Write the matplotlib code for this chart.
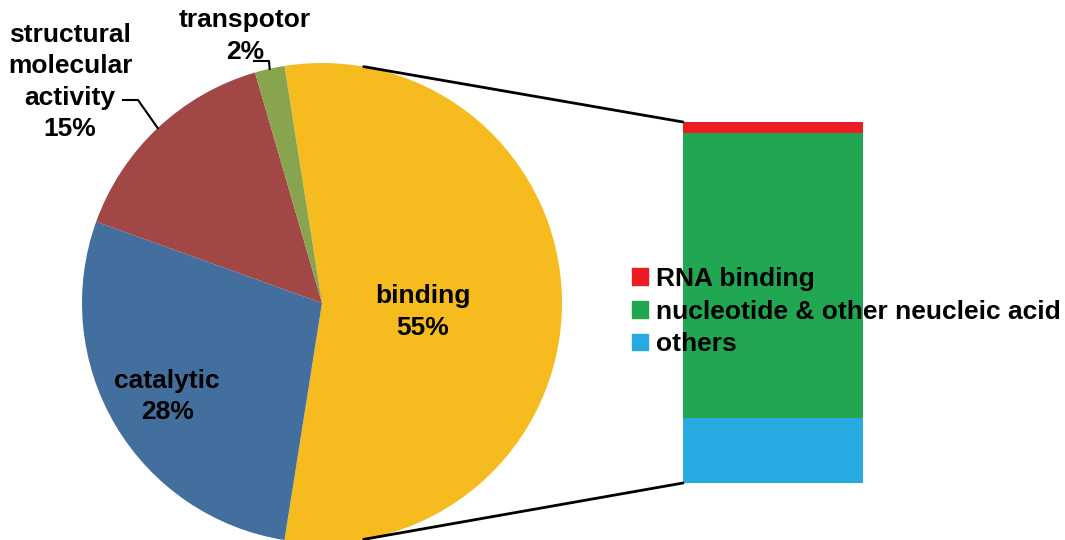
import numpy as np
import matplotlib
matplotlib.use("Agg")
import matplotlib.pyplot as plt
from matplotlib.patches import ConnectionPatch, Patch

plt.rcParams['font.family'] = ['Liberation Sans', 'DejaVu Sans']
plt.rcParams['font.weight'] = 'bold'

# pie data (clockwise from top)
pie_labels = ["binding", "catalytic", "structural\nmolecular\nactivity", "transpotor"]
pie_values = [55, 28, 15, 2]
pie_colors = ["#F6BB1E", "#436F9E", "#A14745", "#88A44F"]

# breakdown of "binding"
bar_labels = ["others", "nucleotide & other neucleic acid", "RNA binding"]
bar_values = [18, 79, 3]
bar_colors = ["#27A9E1", "#21A651", "#ED1C24"]

W, H = 1065, 540
fig = plt.figure(figsize=(W / 100, H / 100), dpi=100)
ax = fig.add_axes([0, 0, 1, 1])

cx, cy, R = 322, 237, 240
wedges, _ = ax.pie(pie_values, colors=pie_colors, startangle=99, counterclock=False,
                   center=(cx, cy), radius=R, frame=True)
ax.set_xlim(0, W)
ax.set_ylim(0, H)
ax.set_aspect('equal')
ax.axis('off')

def mid_point(w, r):
    a = np.deg2rad((w.theta1 + w.theta2) / 2)
    return cx + r * R * np.cos(a), cy + r * R * np.sin(a)

fs = 19
ls = 1.4
# inside labels
x, y = mid_point(wedges[0], 0.42)
ax.text(x, y - 9, f"{pie_labels[0]}\n{pie_values[0]}%", ha='center', va='center',
        fontsize=fs, fontweight='bold', linespacing=ls)
x, y = mid_point(wedges[1], 0.75)
ax.text(x, y - 2, f"{pie_labels[1]}\n{pie_values[1]}%", ha='center', va='center',
        fontsize=fs, fontweight='bold', linespacing=ls)

# outside labels with leader lines
ax.text(70, H - 82, f"{pie_labels[2]}\n{pie_values[2]}%", ha='center', va='center',
        fontsize=fs, fontweight='bold', linespacing=ls)
ex, ey = mid_point(wedges[2], 1.0)
ax.plot([123, 138, ex], [H - 100, H - 100, ey], color='black', lw=1.5)

ax.text(245, H - 36, f"{pie_labels[3]}\n{pie_values[3]}%", ha='center', va='center',
        fontsize=fs, fontweight='bold', linespacing=ls)
ex, ey = mid_point(wedges[3], 1.0)
ax.plot([254, 269, ex], [H - 61, H - 61, ey], color='black', lw=1.5)

# stacked bar
bx = fig.add_axes([683 / W, 57 / H, 180 / W, 361 / H])
bottom = 0
for v, c in zip(bar_values, bar_colors):
    bx.bar(0, v, width=1, bottom=bottom, color=c)
    bottom += v
bx.set_xlim(-0.5, 0.5)
bx.set_ylim(0, 100)
bx.axis('off')

# zoom lines
for ang, yb in [(80, 100), (-80, 0)]:
    a = np.deg2rad(ang)
    con = ConnectionPatch(xyA=(cx + R * np.cos(a), cy + R * np.sin(a)), coordsA=ax.transData,
                          xyB=(-0.5, yb), coordsB=bx.transData, color='black', lw=2)
    fig.add_artist(con)

handles = [Patch(color=c) for c in bar_colors[::-1]]
fig.legend(handles, bar_labels[::-1], loc='upper left', bbox_to_anchor=(632 / W, 1 - 267 / H),
           frameon=False, handlelength=0.6, handleheight=0.6,
           handletextpad=0.3, labelspacing=0.33, borderpad=0, borderaxespad=0,
           prop={'weight': 'bold', 'size': fs})

fig.savefig("out.png", dpi=100)
